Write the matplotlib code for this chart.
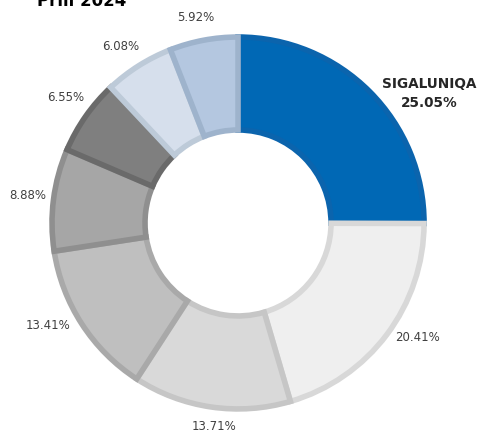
import numpy as np
import matplotlib
matplotlib.use("Agg")
import matplotlib.pyplot as plt

# shares in percent, clockwise from the top
labels = ["SIGALUNIQA", "", "", "", "", "", "", ""]
shares = [25.05, 20.41, 13.71, 13.41, 8.88, 6.55, 6.08, 5.92]
fills = ["#0068B5", "#EFEFEF", "#D9D9D9", "#BFBFBF", "#A6A6A6", "#7F7F7F", "#D6DFEC", "#B4C7E0"]
edges = ["#0B64AD", "#D8D8D8", "#C6C6C6", "#A9A9A9", "#8F8F8F", "#6A6A6A", "#BDCAD8", "#9EB3CC"]

# label placement (angle tweak in degrees, distance from centre)
lab_shift = [-10.8, 4.3, 1.5, -4.5, -0.1, -0.9, 1.4, 1.1]
lab_dist = [1.24, 1.145, 1.10, 1.16, 1.138, 1.147, 1.14, 1.126]

fig = plt.figure(figsize=(4.78, 4.32), dpi=100)
ax = fig.add_axes([0, 0, 1, 1])

wedges, _ = ax.pie(shares, startangle=90, counterclock=False, radius=1.0,
                   colors=fills, wedgeprops=dict(width=0.5, linewidth=4))
for w, ec in zip(wedges, edges):
    w.set_edgecolor(ec)

# percentage labels outside the ring
for w, name, val, sh, r in zip(wedges, labels, shares, lab_shift, lab_dist):
    ang = np.deg2rad((w.theta1 + w.theta2) / 2 + sh)
    x, y = r * np.cos(ang), r * np.sin(ang)
    if name:
        ax.text(x, y, f"{name}\n{val:.2f}%", ha="center", va="center",
                fontsize=9.8, fontweight="bold", color="#262626", linespacing=1.5)
    else:
        ax.text(x, y, f"{val:.2f}%", ha="center", va="center",
                fontsize=8.5, color="#404040")

ax.text(-1.081, 1.167, "Prill 2024", ha="left", va="baseline",
        fontsize=12, fontweight="bold", color="black")

ax.set_xlim(-1.2796, 1.290)
ax.set_ylim(-1.124, 1.199)
ax.set_aspect("auto")
ax.axis("off")

fig.savefig("out.png", dpi=100)
